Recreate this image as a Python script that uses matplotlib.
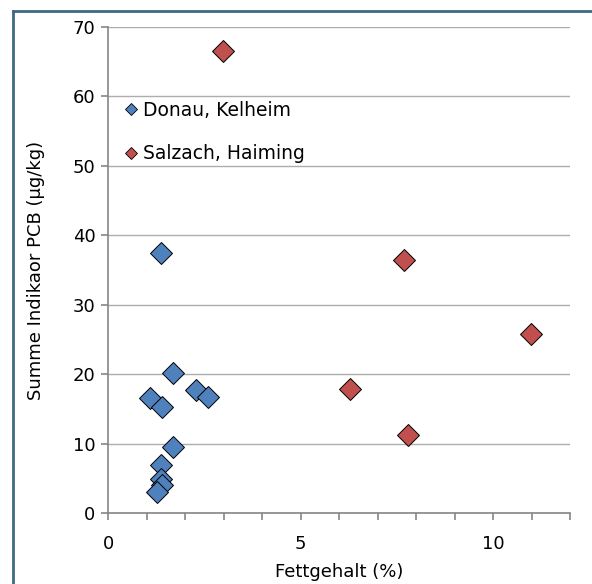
import matplotlib.pyplot as plt
from matplotlib.lines import Line2D
from matplotlib.ticker import MultipleLocator

plt.rcParams['font.family'] = ['DejaVu Sans']

# fat content (%) and sum of indicator PCB (ug/kg) per fish sample
donau_fett = [1.38, 1.69, 1.09, 1.39, 2.29, 2.61, 1.68, 1.37, 1.37, 1.39, 1.28]
donau_pcb = [37.5, 20.2, 16.6, 15.2, 17.7, 16.7, 9.5, 6.9, 4.9, 4.0, 3.0]
salzach_fett = [2.98, 7.69, 10.99, 6.29, 7.78]
salzach_pcb = [66.5, 36.5, 25.8, 17.9, 11.3]

labels = ['Donau, Kelheim', 'Salzach, Haiming']
colors = ['#4F81BD', '#C0504D']

fig = plt.figure(figsize=(5.92, 5.84), dpi=100)
ax = fig.add_axes([108 / 592, 1 - 513 / 584, 462 / 592, 486 / 584])

ax.plot(donau_fett, donau_pcb, 'D', ms=11, color=colors[0],
        mec='black', mew=0.7, zorder=3)
ax.plot(salzach_fett, salzach_pcb, 'D', ms=11, color=colors[1],
        mec='black', mew=0.7, zorder=3)

ax.set_xlim(0, 12)
ax.set_ylim(0, 70)
ax.xaxis.set_major_locator(MultipleLocator(5))
ax.xaxis.set_minor_locator(MultipleLocator(1))
ax.yaxis.set_major_locator(MultipleLocator(10))
ax.grid(axis='y', color='#ADADAD', lw=1.0)
ax.set_axisbelow(True)

for side in ['top', 'right']:
    ax.spines[side].set_visible(False)
for side in ['left', 'bottom']:
    ax.spines[side].set_color('#868686')
    ax.spines[side].set_linewidth(1.2)

ax.tick_params(which='both', direction='out', length=5, width=1.2,
               color='#868686', labelsize=13, pad=4)
ax.tick_params(axis='x', pad=11)

ax.set_xlabel('Fettgehalt (%)', fontsize=13, labelpad=7)
ax.set_ylabel('Summe Indikaor PCB (µg/kg)', fontsize=13, labelpad=20)

handles = [Line2D([], [], ls='none', marker='D', ms=6, color=c,
                  mec='black', mew=0.6) for c in colors]
ax.legend(handles, labels, loc='upper left', bbox_to_anchor=(0.01, 0.875),
          frameon=False, fontsize=13.5, handlelength=0.6, handletextpad=0.3,
          labelspacing=1.3, borderaxespad=0.3)

# outer chart frame (left and top edge)
frame = '#3E6A80'
fig.add_artist(Line2D([13 / 592, 13 / 592], [0, 1 - 11 / 584],
                      color=frame, lw=2, transform=fig.transFigure))
fig.add_artist(Line2D([13 / 592, 1], [1 - 11 / 584, 1 - 11 / 584],
                      color=frame, lw=2, transform=fig.transFigure))

fig.savefig('out.png', dpi=100)
